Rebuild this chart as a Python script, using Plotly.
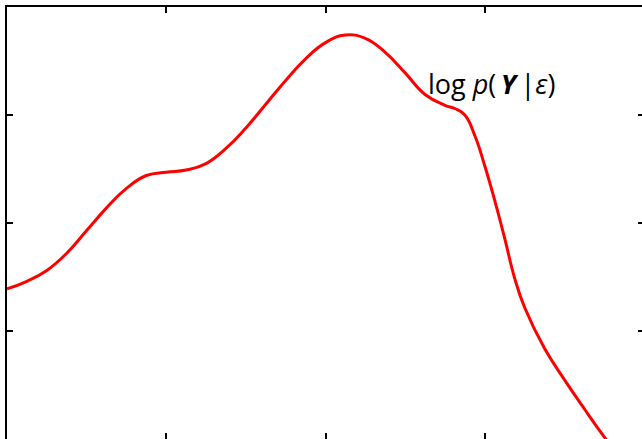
import plotly.graph_objects as go

# curve sampled every 0.125 on the x axis (extra points on the steep shoulder)
x_vals = [0.0, 0.125, 0.25, 0.375, 0.5, 0.625, 0.75, 0.875, 1.0, 1.125,
          1.25, 1.375, 1.5, 1.625, 1.75, 1.875, 2.0, 2.125, 2.25, 2.375,
          2.5, 2.625, 2.75, 2.8125, 2.875, 2.9375, 3.0, 3.0625, 3.125,
          3.1875, 3.25, 3.375, 3.5, 3.625, 3.75, 3.875]
log_p = [1.39, 1.46, 1.56, 1.72, 1.93, 2.14, 2.32, 2.44, 2.47, 2.49,
         2.55, 2.69, 2.88, 3.10, 3.32, 3.52, 3.67, 3.74, 3.71, 3.58,
         3.39, 3.19, 3.09, 3.06, 3.00, 2.81, 2.53, 2.21, 1.86,
         1.49, 1.22, 0.84, 0.55, 0.28, 0.02, -0.22]

x_ticks = [1, 2, 3]
y_ticks = [1, 2, 3]
label = "log <i>p</i>(\u2009<b><i>Y</i></b>\u2009|<i>ε</i>)"

fig = go.Figure()

fig.add_trace(go.Scatter(
    x=x_vals,
    y=log_p,
    mode="lines",
    line=dict(color="#ff0000", width=3, shape="spline", smoothing=1.3),
    hoverinfo="skip"
))

fig.add_annotation(
    x=2.63, y=3.29, xref="x", yref="y",
    text=label, showarrow=False,
    xanchor="left", yanchor="middle",
    font=dict(family="Open Sans", size=27, color="black")
)

axis_style = dict(
    range=[0, 4],
    ticks="inside",
    ticklen=6,
    tickwidth=1.5,
    tickcolor="black",
    showticklabels=False,
    showline=True,
    linewidth=2,
    linecolor="black",
    mirror="allticks",
    showgrid=False,
    zeroline=False,
)

# the frame runs past the right and bottom edge of the window, as in the original
fig.update_layout(
    width=650,
    height=447,
    paper_bgcolor="white",
    plot_bgcolor="white",
    showlegend=False,
    margin=dict(l=7, r=4, t=7, b=8),
)
fig.update_xaxes(tickvals=x_ticks, **axis_style)
fig.update_yaxes(tickvals=y_ticks, **axis_style)

fig.write_html(
    "out.html",
    config={"displayModeBar": False, "displaylogo": False},
    post_script="document.body.style.margin='0';document.body.style.overflow='hidden';"
)
